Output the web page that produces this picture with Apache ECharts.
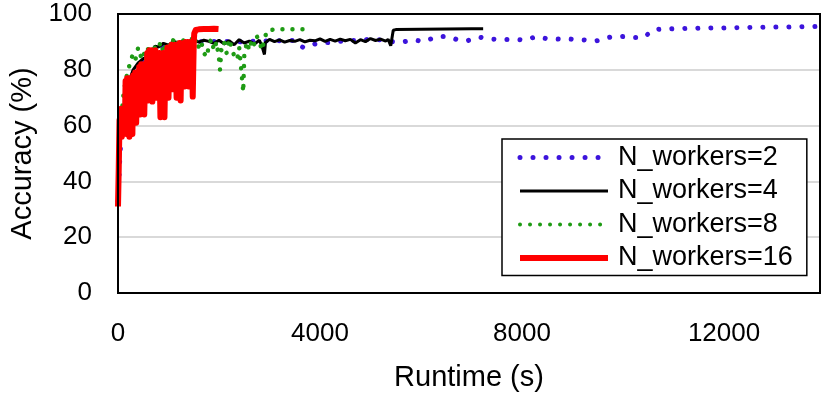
<!DOCTYPE html>
<html>
<head>
<meta charset="utf-8">
<script src="https://cdn.jsdelivr.net/npm/echarts@6/dist/echarts.min.js"></script>
<style>
html,body{margin:0;padding:0;background:#fff;}
#chart{width:830px;height:397px;}
</style>
</head>
<body>
<div id="chart"></div>
<script>
// runtime (s), accuracy (%)
var workers2 = [[0,33],[40,50],[80,60],[150,70],[250,76],[370,79],[500,83],[650,86],[800,88],[1000,89],[1300,89.6],[1600,90],[2000,90.2],[2400,90],[2800,90.3],[3200,90.4],[3500,90.5],[3620,88.5],[3680,87.9],[3750,88.4],[3960,89.6],[4200,89.8],[4500,90.4],[4800,90.6],[5030,91],[5250,90.6],[5450,90],[5640,90],[5860,90.7],[6060,90.1],[6310,91.9],[6530,91.9],[6770,90.5],[6930,90.5],[7150,91.7],[7390,91],[7620,90.9],[7850,90.9],[8090,90.7],[8270,91.9],[8480,91.2],[8720,91],[8970,91],[9230,90.7],[9480,90.4],[9740,91.7],[10000,91.9],[10200,91.6],[10410,91.6],[10610,94.5],[11000,94.7],[11500,94.9],[12000,95],[12500,95.2],[13000,95.3],[13500,95.4],[13850,95.5]];
var workers4 = [[0,35],[50,55],[100,65],[200,75],[300,80],[400,82.5],[500,84],[630,85],[730,88.5],[800,88.2],[900,89.5],[1000,88.8],[1100,90.2],[1200,89.6],[1300,90.5],[1400,89.7],[1500,90.8],[1600,89.9],[1700,90.6],[1800,90.2],[1900,89.5],[2000,90.6],[2100,89.3],[2200,90.4],[2300,89],[2400,90.8],[2500,89.6],[2600,90.3],[2700,89.2],[2800,90.6],[2850,88.5],[2900,85.5],[2920,89.8],[3000,90.9],[3100,90.1],[3200,90.7],[3300,89.9],[3400,90.5],[3500,90.2],[3600,90.8],[3700,90],[3800,90.6],[3900,90.4],[4000,91.1],[4100,90.2],[4200,90.9],[4300,90.3],[4400,91],[4500,90.4],[4600,90.9],[4700,89.6],[4800,90.8],[4900,90.1],[5000,91.2],[5100,90.5],[5200,91],[5300,90.3],[5350,90.9],[5400,88.6],[5430,89.2],[5450,94.2],[5500,94.4],[6000,94.5],[6500,94.6],[7000,94.7],[7230,94.7]];
var workers8 = [[60,60],[100,70],[150,76],[200,80],[250,83],[300,86],[350,84],[400,88],[450,85],[500,87],[550,83],[600,88],[650,86],[700,89],[750,87],[800,88],[850,90],[900,86],[950,89],[1000,90],[1050,88],[1100,91],[1150,89],[1200,90],[1250,87],[1300,91],[1350,89],[1400,90],[1450,92],[1500,89],[1550,91],[1600,88],[1650,90],[1700,86],[1760,84.6],[1800,89],[1850,91],[1900,87],[1950,90],[2000,84],[2020,80],[2050,88],[2100,90],[2150,86],[2200,91],[2250,88],[2300,85],[2360,83.6],[2400,88],[2420,84],[2440,80],[2460,76],[2480,72],[2500,85],[2550,90],[2600,87],[2650,91],[2700,89],[2750,92],[2800,90],[2850,87],[2900,91],[2950,94],[3100,94.5],[3300,94.5],[3500,94.5],[3700,94.5]];
var workers16 = [[0,31],[15,45],[30,62],[45,57],[60,66],[75,56],[90,66],[105,57],[120,66],[135,58],[150,76],[165,57],[180,77],[195,60],[210,77],[225,56],[240,76],[255,62],[270,77],[285,57],[300,78],[320,70],[340,79],[360,61],[380,79],[400,72],[420,81],[440,64],[460,82],[480,75],[500,82],[520,64],[540,81],[560,74],[580,86],[600,69],[620,87],[640,80],[660,87],[680,68.6],[700,86],[720,78],[740,87],[760,70],[780,86],[800,80],[820,86],[840,63],[860,85],[880,78],[900,86],[920,63],[940,84],[960,80],[980,88],[1000,70],[1020,88],[1040,82],[1060,89],[1080,73],[1100,88],[1120,83],[1140,89],[1160,70],[1180,89],[1200,84],[1220,89.6],[1240,69],[1260,89],[1280,82],[1300,89.6],[1320,74],[1340,90],[1360,84],[1380,90],[1400,74],[1420,90],[1440,84],[1460,90],[1480,70.4],[1500,90],[1510,93],[1540,94.3],[1600,94.5],[1700,94.6],[1800,94.6],[1900,94.7],[1990,94.6]];

var xTicks = [0, 4000, 8000, 12000];
var FONT = 'Liberation Sans';

var chart = echarts.init(document.getElementById('chart'));
var option = {
	animation: false,
	backgroundColor: '#fff',
	grid: {
		left: 118,
		right: 10,
		top: 14,
		bottom: 103,
		show: true,
		z: 5,
		borderColor: '#000',
		borderWidth: 2
	},
	legend: {
		orient: 'vertical',
		left: 502,
		top: 139,
		padding: [5, 14, 4, 15],
		itemWidth: 88,
		itemHeight: 10,
		itemGap: 6.5,
		backgroundColor: '#fff',
		borderColor: '#000',
		borderWidth: 1.5,
		borderRadius: 0,
		textStyle: {fontFamily: FONT, fontSize: 27, color: '#000', lineHeight: 27, padding: [0, 0, 0, 5]},
		data: [
			{name: 'N_workers=2', lineStyle: {width: 5}, itemStyle: {opacity: 0}},
			{name: 'N_workers=4', lineStyle: {width: 3}, itemStyle: {opacity: 0}},
			{name: 'N_workers=8', lineStyle: {width: 4}, itemStyle: {opacity: 0}},
			{name: 'N_workers=16', lineStyle: {width: 6}, itemStyle: {opacity: 0}}
		]
	},
	xAxis: {
		type: 'value',
		min: 0,
		max: 13900,
		interval: 4000,
		name: 'Runtime (s)',
		nameLocation: 'middle',
		nameGap: 70,
		nameTextStyle: {fontFamily: FONT, fontSize: 29, color: '#000'},
		axisLine: {show: false},
		axisTick: {show: false},
		splitLine: {show: false},
		axisLabel: {
			fontFamily: FONT, fontSize: 26, color: '#000', margin: 28,
			showMaxLabel: false,
			formatter: function (v) { return xTicks.indexOf(v) >= 0 ? String(v) : ''; }
		}
	},
	yAxis: {
		type: 'value',
		min: 0,
		max: 100,
		interval: 20,
		name: 'Accuracy (%)',
		nameLocation: 'middle',
		nameGap: 78,
		nameTextStyle: {fontFamily: FONT, fontSize: 29, color: '#000'},
		axisLine: {show: false},
		axisTick: {show: false},
		splitLine: {lineStyle: {color: '#d9d9d9', width: 2}},
		axisLabel: {fontFamily: FONT, fontSize: 26, color: '#000', margin: 26}
	},
	series: [
		{
			name: 'N_workers=2', type: 'line', data: workers2, symbol: 'none',
			lineStyle: {color: '#3c14dc', width: 5, type: [0.01, 13], cap: 'round'},
			itemStyle: {color: '#3c14dc'}
		},
		{
			name: 'N_workers=4', type: 'line', data: workers4, symbol: 'none',
			lineStyle: {color: '#000', width: 3},
			itemStyle: {color: '#000'}
		},
		{
			name: 'N_workers=8', type: 'line', data: workers8, symbol: 'none',
			lineStyle: {color: '#1e9b14', width: 4.5, type: [0.01, 10], cap: 'round'},
			itemStyle: {color: '#1e9b14'}
		},
		{
			name: 'N_workers=16', type: 'line', data: workers16, symbol: 'none',
			lineStyle: {color: '#ff0000', width: 6, join: 'round'},
			itemStyle: {color: '#ff0000'}
		}
	]
};
chart.setOption(option);
</script>
</body>
</html>
